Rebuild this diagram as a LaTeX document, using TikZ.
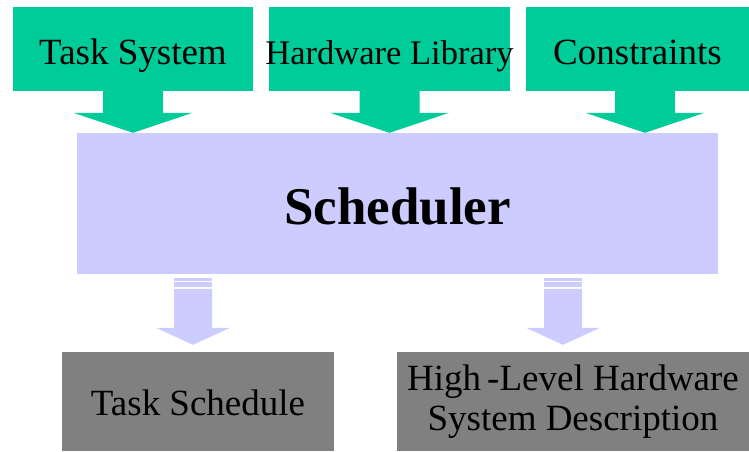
\documentclass[tikz,border=0pt]{standalone}
\usepackage{fontspec}
\setmainfont{Liberation Serif}
\usepackage{tikz}
\usetikzlibrary{calc}

\definecolor{srcgreen}{RGB}{0,204,153}
\definecolor{schedblue}{RGB}{204,204,255}
\definecolor{outgray}{RGB}{128,128,128}

\begin{document}
\begin{tikzpicture}[
    x=1pt, y=-1pt,
    srcbox/.style={fill=srcgreen, inner sep=0pt, minimum height=84pt,
                   text height=39pt, text depth=8pt, font=\fontsize{37}{40}\selectfont},
    schedbox/.style={fill=schedblue, inner sep=0pt, minimum width=641pt, minimum height=141pt,
                   text height=49pt, text depth=8pt, font=\bfseries\fontsize{53}{60}\selectfont},
    outbox/.style={fill=outgray, inner sep=0pt, minimum height=99pt, align=center,
                   font=\fontsize{37}{40}\selectfont},
    inarrow/.style={fill=srcgreen},
    outarrow/.style={fill=schedblue}
]
\useasboundingbox (0,0) rectangle (749,451);

% inputs
\node[srcbox, minimum width=240pt] (tasksys) at (133,49) {Task System};
\node[srcbox, minimum width=241pt, font=\fontsize{34.5}{40}\selectfont] (hwlib) at (389.5,49) {\makebox[0pt]{Hardware Library}};
\node[srcbox, minimum width=223pt] (cons) at (637.5,49) {Constraints};

% scheduler
\node[schedbox] (sched) at (397.5,203.5) {Scheduler};

% outputs
\node[outbox, minimum width=272pt, text height=35pt, text depth=8pt] (tasksch) at (198,401.5) {Task Schedule};
\node[outbox, minimum width=352pt] (hlsd) at (573,401.5) {High\,-Level Hardware\\System Description};

% arrows into the scheduler
\fill[inarrow] (tasksys.south |- sched.north) -- ++(59.5,-20) -- ++(-29.5,0) -- ++(0,-22)
    -- ++(-60,0) -- ++(0,22) -- ++(-29.5,0) -- cycle;
\fill[inarrow] (hwlib.south |- sched.north) -- ++(59.5,-20) -- ++(-29.5,0) -- ++(0,-22)
    -- ++(-60,0) -- ++(0,22) -- ++(-29.5,0) -- cycle;
\fill[inarrow] ([xshift=7.5pt]cons.south |- sched.north) -- ++(59.5,-20) -- ++(-29.5,0) -- ++(0,-22)
    -- ++(-60,0) -- ++(0,22) -- ++(-29.5,0) -- cycle;

% arrows out of the scheduler
\coordinate (tip1) at ([xshift=-5pt,yshift=7pt]tasksch.north);
\coordinate (tip2) at ([xshift=-10pt,yshift=7pt]hlsd.north);
\fill[outarrow] (tip1) -- ++(37,-17) -- ++(-18,0) -- ++(0,-39) -- ++(-38,0) -- ++(0,39) -- ++(-18,0) -- cycle;
\fill[outarrow] ($(tip1)+(-19,-67)$) rectangle ($(tip1)+(19,-64)$);
\fill[outarrow] ($(tip1)+(-19,-63)$) rectangle ($(tip1)+(19,-58)$);
\fill[outarrow] (tip2) -- ++(37,-17) -- ++(-18,0) -- ++(0,-39) -- ++(-38,0) -- ++(0,39) -- ++(-18,0) -- cycle;
\fill[outarrow] ($(tip2)+(-19,-67)$) rectangle ($(tip2)+(19,-64)$);
\fill[outarrow] ($(tip2)+(-19,-63)$) rectangle ($(tip2)+(19,-58)$);
\end{tikzpicture}
\end{document}
